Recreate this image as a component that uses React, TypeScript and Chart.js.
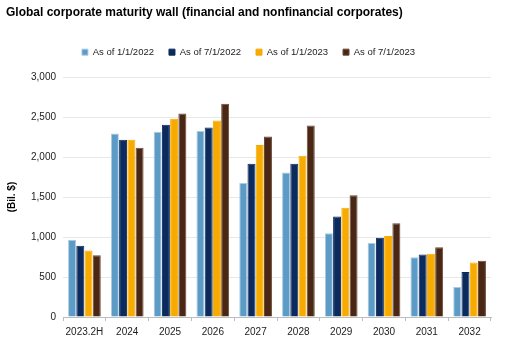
import React, { useEffect, useRef } from "react";
import { Chart, registerables } from "chart.js";

Chart.register(...registerables);

const categories = ["2023.2H", "2024", "2025", "2026", "2027", "2028", "2029", "2030", "2031", "2032"];
const seriesNames = ["As of 1/1/2022", "As of 7/1/2022", "As of 1/1/2023", "As of 7/1/2023"];
const asOf2022Jan = [966, 2296, 2317, 2325, 1675, 1808, 1046, 925, 746, 375];
const asOf2022Jul = [891, 2217, 2404, 2371, 1917, 1917, 1258, 992, 783, 562];
const asOf2023Jan = [833, 2217, 2479, 2458, 2150, 2017, 1367, 1013, 792, 683];
const asOf2023Jul = [771, 2117, 2546, 2667, 2258, 2396, 1521, 1171, 871, 704];
const colors = ["#5b9bc6", "#0b2b5e", "#f7ab00", "#4a2714"];
const borders = ["#a9cbe3", "#0b2b5e", "#f7ab00", "#6b4a36"];

export default function App() {
  const ref = useRef<HTMLCanvasElement>(null);
  useEffect(() => {
    if (!ref.current) return;
    const values = [asOf2022Jan, asOf2022Jul, asOf2023Jan, asOf2023Jul];
    const chart = new Chart(ref.current, {
      type: "bar",
      data: {
        labels: categories,
        datasets: seriesNames.map((name, i) => ({
          label: name,
          data: values[i],
          backgroundColor: colors[i],
          borderColor: borders[i],
          borderWidth: 1,
          categoryPercentage: 0.77,
          barPercentage: 0.97,
        })),
      },
      options: {
        responsive: false,
        animation: false,
        layout: { padding: { left: 6, right: 20, top: 5, bottom: 0 } },
        plugins: {
          title: {
            display: true,
            text: "Global corporate maturity wall (financial and nonfinancial corporates)",
            align: "start",
            color: "#000",
            font: { family: "Liberation Sans, Arial", size: 12, weight: "bold" },
            padding: { top: 0, bottom: 13 },
          },
          subtitle: {
            display: true,
            text: " ",
            weight: 500,
            font: { size: 1 },
            padding: { top: 0, bottom: 9 },
          },
          legend: {
            display: true,
            position: "top",
            labels: {
              boxWidth: 6,
              boxHeight: 6,
              padding: 15,
              color: "#222",
              font: { family: "Liberation Sans, Arial", size: 9.5 },
            },
          },
          tooltip: { enabled: false },
        },
        scales: {
          x: {
            grid: {
              display: true,
              drawOnChartArea: false,
              drawTicks: true,
              tickLength: 4,
              color: "#bdbdbd",
              offset: true,
            },
            border: { display: true, color: "#bdbdbd" },
            ticks: {
              color: "#222",
              font: { family: "Liberation Sans, Arial", size: 10 },
              padding: 5,
              maxRotation: 0,
            },
          },
          y: {
            min: 0,
            max: 3000,
            ticks: {
              stepSize: 500,
              color: "#222",
              font: { family: "Liberation Sans, Arial", size: 10 },
              padding: 7,
              callback: (v: any) => Number(v).toLocaleString("en-US"),
            },
            grid: { color: "#e8e8e8", drawTicks: false },
            border: { display: false },
            title: {
              display: true,
              text: "(Bil. $)",
              color: "#000",
              font: { family: "Liberation Sans, Arial", size: 10, weight: "bold" },
              padding: { top: 0, bottom: 6 },
            },
          },
        },
      },
    });
    return () => chart.destroy();
  }, []);
  return (
    <div style={{ position: "fixed", left: 0, top: 0, width: 511, height: 343, background: "#fff" }}>
      <canvas ref={ref} width={511} height={343} style={{ display: "block" }} />
    </div>
  );
}
